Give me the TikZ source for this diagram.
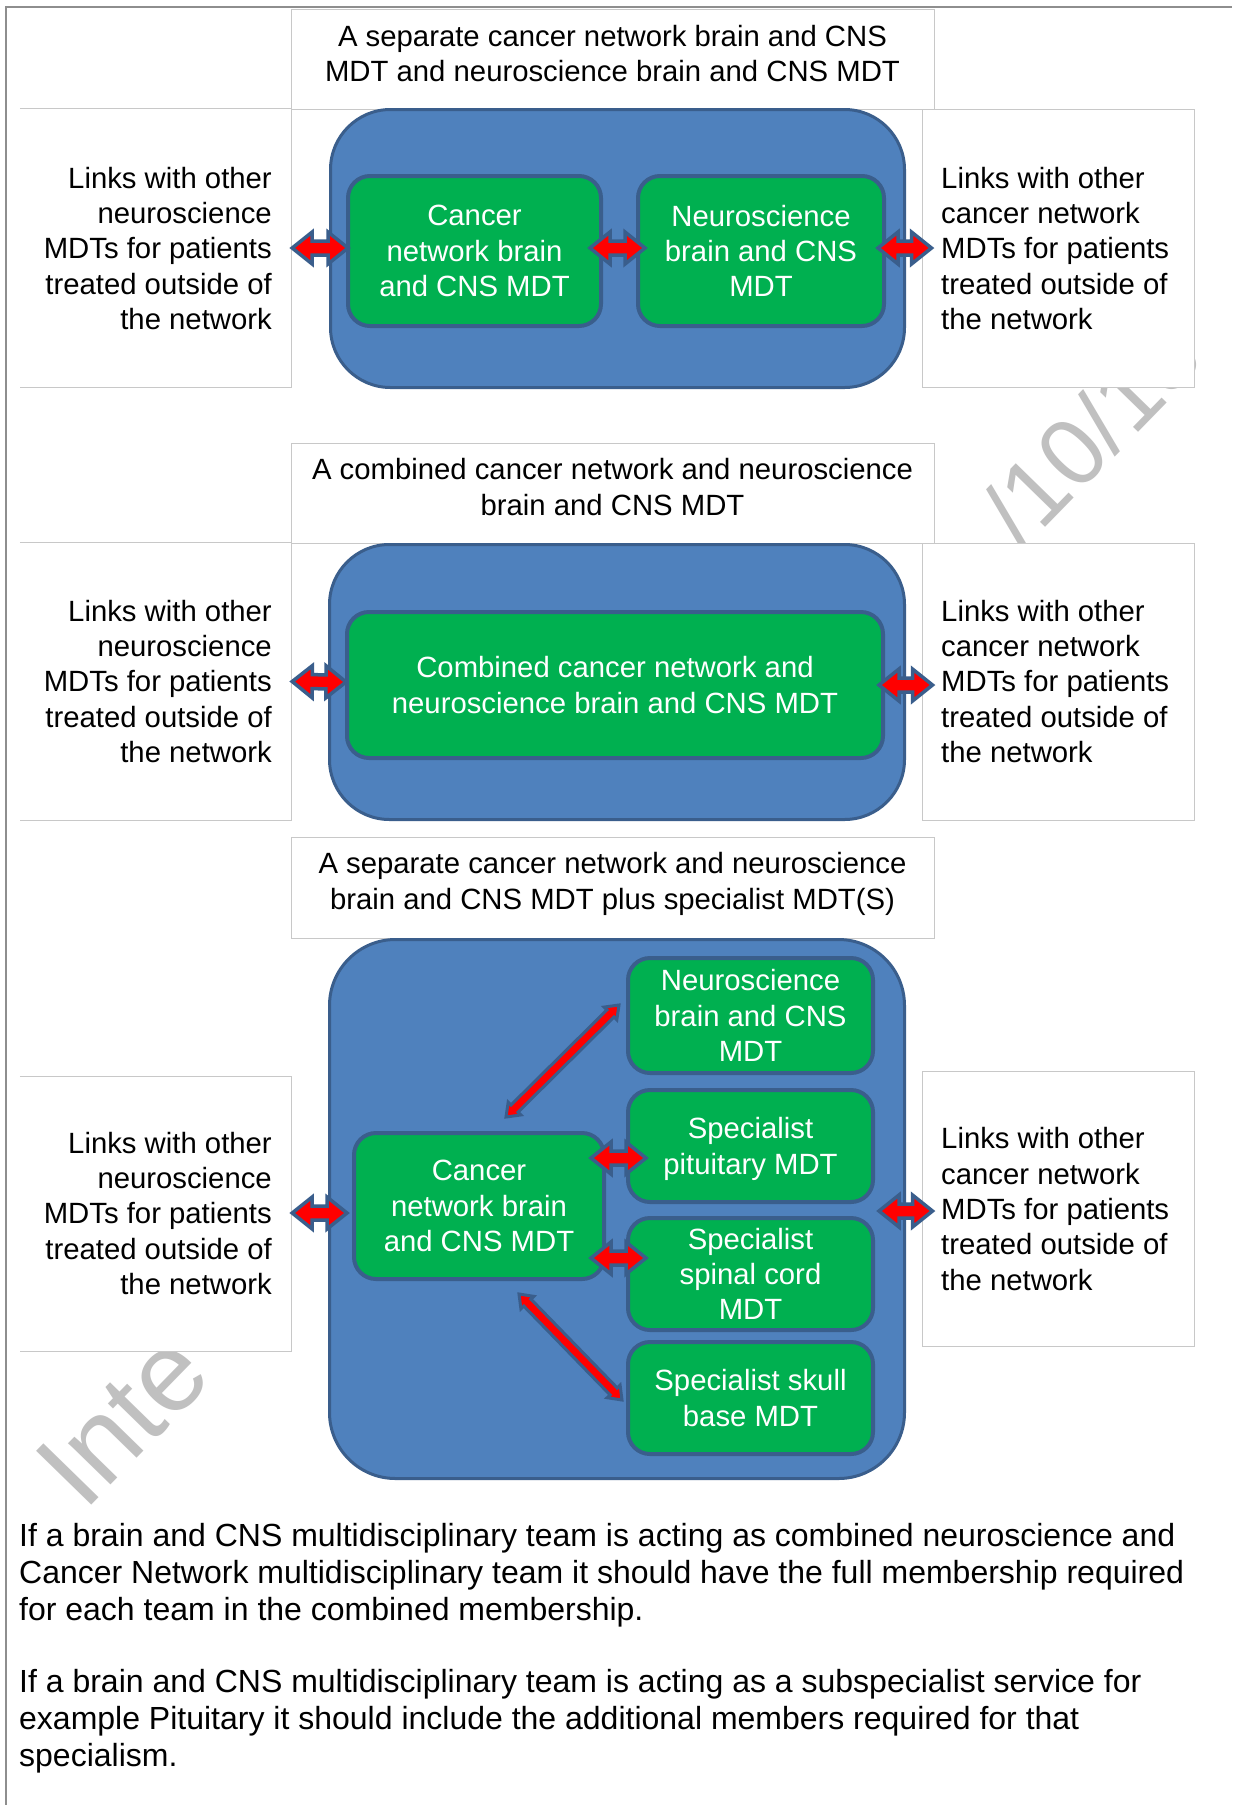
\documentclass[tikz,border=0pt]{standalone}
\usepackage{fontspec}
\setmainfont{Liberation Sans}
\usetikzlibrary{calc}
\definecolor{accblue}{HTML}{4F81BD}
\definecolor{accblueline}{HTML}{3A5E8C}
\definecolor{mdtgreen}{HTML}{00B050}
\definecolor{arrred}{HTML}{FF0000}
\definecolor{boxline}{HTML}{C8C8C8}
\definecolor{pageline}{HTML}{8E8E8E}
\definecolor{wmarkc}{HTML}{C0C0C0}

% double block arrow between two named coordinates
% #1 style, #2 start, #3 end, #4 head length, #5 half head width, #6 half shaft width
\newcommand\blockarrow[6][]{%
  \pgfmathsetmacro\bahA{sqrt((#4)*(#4)+(#5)*(#5))}%
  \pgfmathsetmacro\baaA{atan((#5)/(#4))}%
  \pgfmathsetmacro\bahB{sqrt((#4)*(#4)+(#6)*(#6))}%
  \pgfmathsetmacro\baaB{atan((#6)/(#4))}%
  \draw[#1] (#2) -- ($(#2)!\bahA pt!\baaA:(#3)$) -- ($(#2)!\bahB pt!\baaB:(#3)$)
    -- ($(#3)!\bahB pt!-\baaB:(#2)$) -- ($(#3)!\bahA pt!-\baaA:(#2)$) -- (#3)
    -- ($(#3)!\bahA pt!\baaA:(#2)$) -- ($(#3)!\bahB pt!\baaB:(#2)$)
    -- ($(#2)!\bahB pt!-\baaB:(#3)$) -- ($(#2)!\bahA pt!-\baaA:(#3)$) -- cycle;%
}

\tikzset{
  pageframe/.style={draw=pageline, line width=2pt},
  boxln/.style={draw=boxline, line width=1pt},
  titlebox/.style={fill=white, draw=boxline, line width=1pt, minimum width=643pt, inner sep=0pt},
  sidebox/.style={fill=white, minimum width=271pt, inner sep=0pt},
  boxtext/.style={font=\fontsize{29.3}{35.3}\selectfont, inner sep=0pt, text=black},
  container/.style={fill=accblue, draw=accblueline, line width=3pt, rounded corners=60pt, inner sep=0pt},
  mdt/.style={fill=mdtgreen, draw=accblueline, line width=4pt, rounded corners=22pt, text=white,
              font=\fontsize{29.3}{35.3}\selectfont, align=center, inner sep=0pt},
  bigarrow/.style={fill=arrred, draw=accblueline, line width=3.5pt},
  thinarrow/.style={fill=arrred, draw=accblueline, line width=3pt},
  para/.style={font=\fontsize{32}{37}\selectfont, align=left, inner sep=0pt, anchor=west},
  wmark/.style={text=wmarkc, inner sep=0pt, rotate=45.7}
}

\begin{document}
\begin{tikzpicture}[x=1pt,y=-1pt]
\useasboundingbox (0,0) rectangle (1232,1805);
\fill[white] (0,0) rectangle (1232,1805);
\draw[pageframe] (5,7) -- (1232,7);
\draw[pageframe] (6,7) -- (6,1805);

% watermark (only the visible parts)
\node[wmark, font=\fontsize{112}{112}\selectfont, anchor=base west] (wmA) at (84,1513) {Inte};
\node[wmark, font=\fontsize{95}{95}\selectfont, anchor=base east] (wmB) at (1207,362) {/10/13};

% ---------- Section 1 ----------
\node[titlebox, minimum height=100pt] (T1) at (612.5,59) {};
\node[boxtext, align=center] (T1t) at (612.5,53.5) {A separate cancer network brain and CNS\\MDT and neuroscience brain and CNS MDT};
\node[sidebox, minimum height=278pt] (L1) at (155.5,248) {};
\draw[boxln] (L1.north west) -- (L1.north east) -- (L1.south east) -- (L1.south west);
\node[boxtext, align=right, anchor=east] (L1t) at (272,248.5) {Links with other\\neuroscience\\MDTs for patients\\treated outside of\\the network};
\node[sidebox, boxln, minimum width=272pt, minimum height=278pt] (R1) at (1058,248) {};
\node[boxtext, align=left, anchor=west] (R1t) at (941,248.5) {Links with other\\cancer network\\MDTs for patients\\treated outside of\\the network};

\node[container, minimum width=574pt, minimum height=278pt] (B1) at (617.5,248.5) {};
\node[mdt, minimum width=253pt, minimum height=150pt] (G1a) at (474.5,251) {Cancer\\network brain\\and CNS MDT};
\node[mdt, minimum width=246pt, minimum height=150pt] (G1b) at (761,251) {Neuroscience\\brain and CNS\\MDT};

\coordinate (a1s) at ($(L1.east)+(1,0)$);
\coordinate (a1e) at ($(G1a.west)+(2,-3)$);
\coordinate (a2s) at ($(G1a.east)+(-13,-3)$);
\coordinate (a2e) at ($(G1b.west)+(9,-3)$);
\coordinate (a3s) at ($(G1b.east)+(-8,-3)$);
\coordinate (a3e) at ($(R1.west)+(10,0)$);
\blockarrow[bigarrow]{a1s}{a1e}{20}{16}{7}
\blockarrow[bigarrow]{a2s}{a2e}{20}{16}{7}
\blockarrow[bigarrow]{a3s}{a3e}{20}{16}{7}

% ---------- Section 2 ----------
\node[titlebox, minimum height=100pt] (T2) at (612.5,493) {};
\node[boxtext, align=center] (T2t) at (612.5,487) {A combined cancer network and neuroscience\\brain and CNS MDT};
\node[sidebox, minimum height=277pt] (L2) at (155.5,681.5) {};
\draw[boxln] (L2.north west) -- (L2.north east) -- (L2.south east) -- (L2.south west);
\node[boxtext, align=right, anchor=east] (L2t) at (272,681.5) {Links with other\\neuroscience\\MDTs for patients\\treated outside of\\the network};
\node[sidebox, boxln, minimum width=272pt, minimum height=277pt] (R2) at (1058,681.5) {};
\node[boxtext, align=left, anchor=west] (R2t) at (941,681.5) {Links with other\\cancer network\\MDTs for patients\\treated outside of\\the network};

\node[container, minimum width=575pt, minimum height=275pt] (B2) at (617,682) {};
\node[mdt, minimum width=536pt, minimum height=146pt] (G2) at (615,685) {Combined cancer network and\\neuroscience brain and CNS MDT};

\coordinate (b1s) at ($(L2.east)+(1,0)$);
\coordinate (b1e) at ($(G2.west)+(1,-3)$);
\coordinate (b2s) at ($(G2.east)+(-6,0)$);
\coordinate (b2e) at ($(R2.west)+(11,3.5)$);
\blockarrow[bigarrow]{b1s}{b1e}{20}{16}{7}
\blockarrow[bigarrow]{b2s}{b2e}{20}{16}{7}

% ---------- Section 3 ----------
\node[titlebox, minimum height=101pt] (T3) at (612.5,887.5) {};
\node[boxtext, align=center] (T3t) at (612.5,884) {A separate cancer network and neuroscience\\brain and CNS MDT plus specialist MDT(S)};
\node[sidebox, minimum height=274pt] (L3) at (155.5,1214) {};
\draw[boxln] (L3.north west) -- (L3.north east) -- (L3.south east) -- (L3.south west);
\node[boxtext, align=right, anchor=east] (L3t) at (272,1213.5) {Links with other\\neuroscience\\MDTs for patients\\treated outside of\\the network};
\node[sidebox, boxln, minimum width=272pt, minimum height=275pt] (R3) at (1058,1208.5) {};
\node[boxtext, align=left, anchor=west] (R3t) at (941,1209) {Links with other\\cancer network\\MDTs for patients\\treated outside of\\the network};

\node[container, minimum width=575pt, minimum height=539pt, rounded corners=66pt] (B3) at (617,1209) {};
\node[mdt, minimum width=250pt, minimum height=146pt] (Cn) at (479,1206) {Cancer\\network brain\\and CNS MDT};
\node[mdt, minimum width=245pt, minimum height=115pt] (Nr) at (750.5,1015.5) {Neuroscience\\brain and CNS\\MDT};
\node[mdt, minimum width=245pt, minimum height=112pt, text depth=0pt] (Pt) at (750.5,1146) {Specialist\\pituitary MDT};
\node[mdt, minimum width=245pt, minimum height=112pt] (Sp) at (750.5,1274) {Specialist\\spinal cord\\MDT};
\node[mdt, minimum width=245pt, minimum height=112pt] (Sk) at (750.5,1398) {Specialist skull\\base MDT};

\coordinate (c1s) at ($(L3.east)+(1,-1)$);
\coordinate (c1e) at ($(Cn.west)+(-5,7)$);
\coordinate (c2s) at ($(Pt.east |- R3.west)+(4,2.5)$);
\coordinate (c2e) at ($(R3.west)+(11,2.5)$);
\coordinate (c3s) at ($(Cn.east)+(-15,-48)$);
\coordinate (c3e) at ($(Pt.west)+(20,12)$);
\coordinate (c4s) at ($(Cn.east)+(-15,52)$);
\coordinate (c4e) at ($(Sp.west)+(20,-16)$);
\coordinate (d1s) at ($(Cn.north)+(27,-14)$);
\coordinate (d1e) at ($(Nr.west)+(-7,-10.5)$);
\coordinate (d2s) at ($(Cn.south)+(40,13)$);
\coordinate (d2e) at ($(Sk.west)+(-4,2)$);
\blockarrow[bigarrow]{c1s}{c1e}{20}{16}{7}
\blockarrow[bigarrow]{c2s}{c2e}{20}{16}{7}
\blockarrow[bigarrow]{c3s}{c3e}{20}{16}{7}
\blockarrow[bigarrow]{c4s}{c4e}{20}{16}{7}
\blockarrow[thinarrow]{d1s}{d1e}{12}{9}{5}
\blockarrow[thinarrow]{d2s}{d2e}{12}{9}{5}

% ---------- Notes ----------
\node[para] (P1) at (19,1575) {If a brain and CNS multidisciplinary team is acting as combined neuroscience and\\Cancer Network multidisciplinary team it should have the full membership required\\for each team in the combined membership.};
\node[para] (P2) at (19,1721.5) {If a brain and CNS multidisciplinary team is acting as a subspecialist service for\\example Pituitary it should include the additional members required for that\\specialism.};
\end{tikzpicture}
\end{document}
